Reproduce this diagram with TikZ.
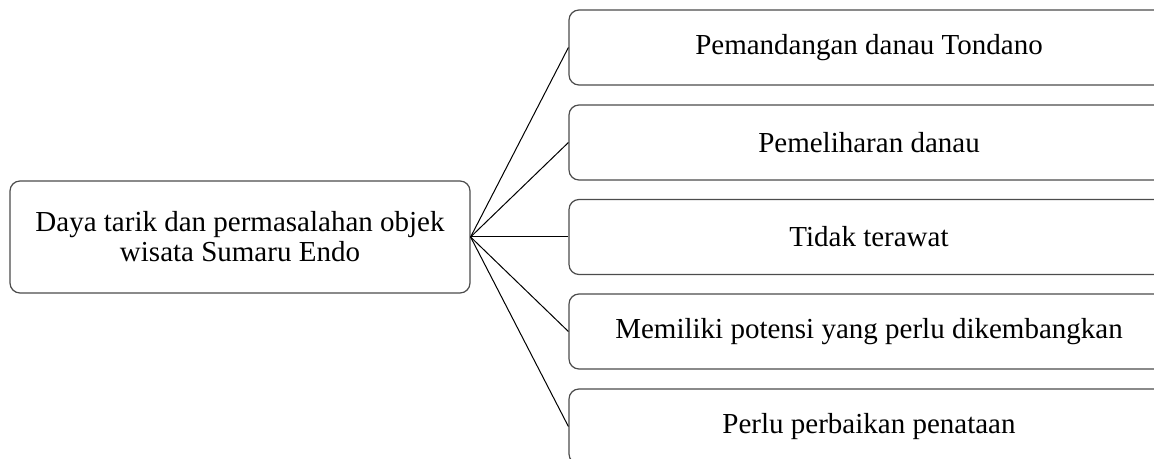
\documentclass[tikz,border=0pt]{standalone}
\usepackage{fontspec}
\setmainfont{Liberation Serif}
\usetikzlibrary{positioning}
\tikzset{box/.style={draw=black!70,rounded corners=5pt,line width=0.6pt,align=center,inner sep=0pt,font=\fontsize{14.5}{15}\selectfont},
  sub/.style={box,minimum width=300pt,minimum height=37.5pt}}
\begin{document}
\begin{tikzpicture}[x=0.5pt,y=-0.5pt]
\clip (0,0) rectangle (1154,459);
\node[box,minimum width=230pt,minimum height=56pt] (m) at (240,237){Daya tarik dan permasalahan objek\\wisata Sumaru Endo};
\node[sub] (p1) at (869,47.5){Pemandangan danau Tondano};
\node[sub] (p2) at (869,142.5){Pemeliharan danau};
\node[sub] (p3) at (869,237){Tidak terawat};
\node[sub] (p4) at (869,331.5){Memiliki potensi yang perlu dikembangkan};
\node[sub] (p5) at (869,426.5){Perlu perbaikan penataan};
\draw[line width=0.5pt] (m.east)--(p1.west);
\draw[line width=0.5pt] (m.east)--(p2.west);
\draw[line width=0.5pt] (m.east)--(p3.west);
\draw[line width=0.5pt] (m.east)--(p4.west);
\draw[line width=0.5pt] (m.east)--(p5.west);
\end{tikzpicture}
\end{document}
